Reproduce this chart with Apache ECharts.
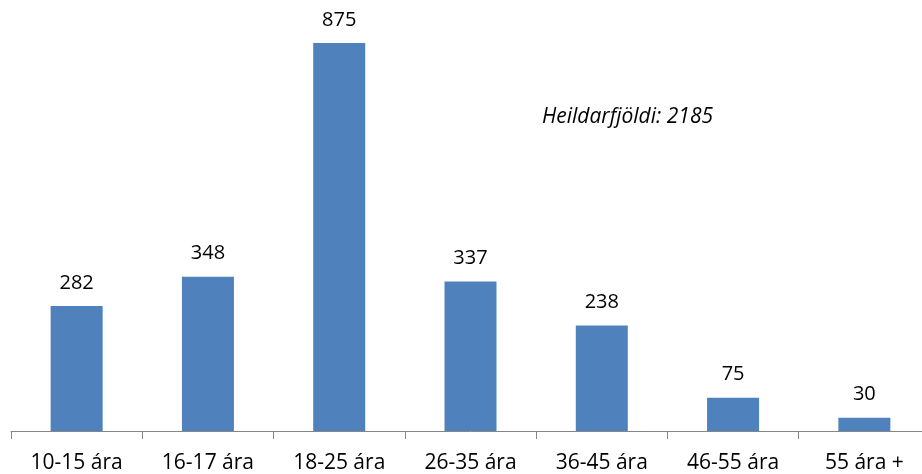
<!DOCTYPE html>
<html><head><meta charset="utf-8">
<script src="https://cdn.jsdelivr.net/npm/echarts@6/dist/echarts.min.js"></script>
<style>html,body{margin:0;padding:0;background:#fff;overflow:hidden;width:922px;height:474px}#c{width:932px;height:474px}</style>
</head><body><div id="c"></div>
<script>
const categories = ["10-15 ára","16-17 ára","18-25 ára","26-35 ára","36-45 ára","46-55 ára","55 ára +"];
const values = [282,348,875,337,238,75,30];
const note = "Heildarfjöldi: 2185";
const FONT = "Open Sans";
const chart = echarts.init(document.getElementById('c'), null, {renderer:'canvas'});
chart.setOption({
  animation:false,
  backgroundColor:'#fff',
  grid:{left:11, top:43, right:2, bottom:41, containLabel:false},
  xAxis:{type:'category', data:categories,
    axisLine:{lineStyle:{color:'#868686', width:1}},
    axisTick:{show:true, length:8, lineStyle:{color:'#868686'}},
    axisLabel:{color:'#000', fontFamily:FONT, fontSize:21, margin:22, interval:0}},
  yAxis:{type:'value', min:0, max:875, show:false, splitLine:{show:false}},
  graphic:[{type:'text', left:542, top:107, style:{text:note, fontFamily:FONT, fontStyle:'italic', fontSize:21, fill:'#000'}}],
  series:[{type:'bar', data:values, barWidth:52, itemStyle:{color:'#4F81BD'},
    label:{show:true, position:'top', distance:13, color:'#000', fontFamily:FONT, fontSize:20}}]
});
</script></body></html>
